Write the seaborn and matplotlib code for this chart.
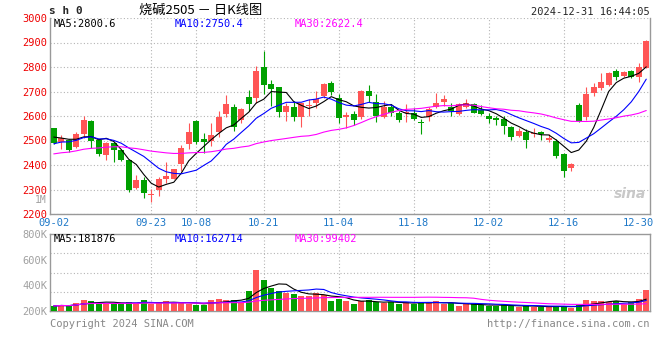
import matplotlib
matplotlib.use('Agg')
import matplotlib.pyplot as plt
import seaborn as sns
import numpy as np
import pandas as pd

# 日K数据 (2024-09-02 ~ 2024-12-31, 80 个交易日)
open_ = [2551, 2495, 2502, 2472, 2527, 2580, 2502, 2441, 2489, 2461,
         2420, 2305, 2339, 2278, 2296, 2344, 2344, 2404, 2486, 2581,
         2506, 2499, 2536, 2609, 2638, 2584, 2679, 2675, 2799, 2731,
         2717, 2618, 2636, 2597, 2641, 2652, 2683, 2736, 2675, 2597,
         2608, 2595, 2702, 2656, 2595, 2638, 2611, 2614, 2614, 2577,
         2595, 2636, 2658, 2636, 2608, 2638, 2649, 2624, 2601, 2593,
         2588, 2554, 2518, 2536, 2525, 2536, 2502, 2500, 2443, 2389,
         2645, 2597, 2695, 2713, 2727, 2784, 2764, 2784, 2760, 2797]
high = [2553, 2522, 2505, 2536, 2601, 2584, 2505, 2495, 2492, 2463,
        2422, 2359, 2351, 2302, 2349, 2411, 2385, 2482, 2570, 2583,
        2529, 2570, 2620, 2686, 2648, 2634, 2706, 2804, 2865, 2747,
        2720, 2652, 2662, 2655, 2668, 2702, 2734, 2743, 2690, 2618,
        2622, 2706, 2727, 2690, 2661, 2648, 2620, 2649, 2634, 2586,
        2636, 2693, 2686, 2652, 2654, 2669, 2654, 2645, 2611, 2600,
        2600, 2560, 2552, 2546, 2550, 2540, 2525, 2505, 2451, 2410,
        2652, 2719, 2733, 2774, 2781, 2790, 2785, 2788, 2815, 2910]
low = [2485, 2465, 2455, 2470, 2510, 2470, 2438, 2420, 2414, 2416,
       2291, 2302, 2265, 2250, 2275, 2327, 2342, 2377, 2467, 2486,
       2448, 2478, 2515, 2597, 2540, 2570, 2620, 2654, 2689, 2642,
       2597, 2581, 2581, 2556, 2600, 2631, 2672, 2686, 2573, 2550,
       2563, 2588, 2658, 2577, 2590, 2600, 2575, 2577, 2584, 2527,
       2581, 2631, 2641, 2600, 2604, 2631, 2612, 2604, 2570, 2563,
       2527, 2502, 2515, 2471, 2515, 2502, 2495, 2430, 2349, 2377,
       2575, 2584, 2682, 2705, 2724, 2747, 2758, 2754, 2740, 2795]
close = [2491, 2511, 2461, 2526, 2584, 2499, 2445, 2491, 2461, 2420,
         2300, 2339, 2287, 2282, 2342, 2355, 2382, 2471, 2535, 2495,
         2495, 2522, 2597, 2649, 2554, 2629, 2649, 2784, 2727, 2710,
         2618, 2641, 2597, 2652, 2645, 2668, 2731, 2699, 2590, 2603,
         2584, 2702, 2683, 2601, 2638, 2611, 2584, 2618, 2588, 2570,
         2627, 2654, 2669, 2620, 2648, 2652, 2614, 2608, 2588, 2584,
         2560, 2515, 2539, 2504, 2532, 2527, 2511, 2436, 2377, 2403,
         2578, 2690, 2719, 2740, 2774, 2759, 2779, 2758, 2800, 2907]
# 09-02 之前的收盘价 (估计, 仅用于均线)
prior_close = [2375, 2380, 2370, 2385, 2390, 2400, 2395, 2410, 2420, 2430,
               2425, 2440, 2445, 2450, 2460, 2455, 2465, 2470, 2460, 2469,
               2440, 2452, 2465, 2470, 2468, 2531, 2486, 2526, 2536]
# 成交量 (K)
volume_k = [239, 247, 239, 265, 286, 278, 260, 257, 260, 262,
            270, 252, 286, 257, 262, 278, 260, 270, 255, 247,
            247, 286, 294, 283, 286, 273, 356, 519, 442, 382,
            356, 343, 332, 317, 319, 343, 325, 278, 294, 278,
            255, 278, 283, 268, 260, 268, 257, 268, 257, 270,
            262, 275, 257, 262, 239, 252, 252, 247, 242, 239,
            247, 239, 234, 239, 234, 234, 229, 239, 239, 226,
            247, 286, 278, 278, 273, 278, 257, 268, 294, 364]

tick_pos = [0, 13, 19, 28, 38, 48, 58, 68, 78]
tick_labels = ['09-02', '09-23', '10-08', '10-21', '11-04', '11-18', '12-02', '12-16', '12-30']
price_ticks = list(range(2200, 3001, 100))
vol_ticks = [200e3, 400e3, 600e3, 800e3]
vol_tick_labels = ['200K', '400K', '600K', '800K']

RED = '#ff5555'
GREEN = '#00a000'
GRAY = '#999999'
GRID = '#b4b4b4'

sns.set_theme(style='white')
plt.rcParams['font.family'] = ['DejaVu Sans Mono', 'Noto Sans CJK SC']

o = np.array(open_, float)
h = np.array(high, float)
l = np.array(low, float)
c = np.array(close, float)
v = np.array(volume_k, float) * 1000
x = np.arange(len(c))
up = c >= o
colors = np.where(up, RED, GREEN)

full = pd.Series(prior_close + close, dtype=float)
ma = {n: full.rolling(n).mean().iloc[len(prior_close):].to_numpy() for n in (5, 10, 30)}
vs = pd.Series(v)
vma = {n: vs.rolling(n, min_periods=1).mean().to_numpy() for n in (5, 10, 30)}

fig = plt.figure(figsize=(6.6, 3.6), dpi=100)
ax = fig.add_axes([50 / 660, 1 - 214 / 360, 600 / 660, 196 / 360])
axv = fig.add_axes([50 / 660, 1 - 311 / 360, 600 / 660, 77 / 360])

# 价格面板
ax.vlines(x, l, h, colors=colors, lw=0.8, zorder=3)
ax.bar(x, np.maximum(np.abs(c - o), 3), bottom=np.minimum(o, c), width=0.78,
       color=colors, linewidth=0, zorder=4)
sns.lineplot(x=x, y=ma[5], color='black', lw=0.8, ax=ax, zorder=5)
sns.lineplot(x=x, y=ma[10], color='#0000ff', lw=0.8, ax=ax, zorder=5)
sns.lineplot(x=x, y=ma[30], color='#ff00ff', lw=0.8, ax=ax, zorder=5)

ax.set_xlim(-0.5, 79.5)
ax.set_ylim(2200, 3000)
ax.set_yticks(price_ticks)
ax.set_yticklabels([str(t) for t in price_ticks])
ax.set_xticks(tick_pos)
ax.set_xticklabels(tick_labels)
ax.tick_params(axis='y', colors='#ee0000', labelsize=7.5, length=0, pad=2)
ax.tick_params(axis='x', colors='#1e78c8', labelsize=7.5, length=0, pad=3.2)
ax.grid(axis='y', ls=(0, (1, 2)), color=GRID, lw=0.8)
ax.grid(axis='x', visible=False)
for p in tick_pos[1:-1]:
    ax.axvline(p, ls=(0, (1, 2)), color=GRID, lw=0.8, zorder=1)
ax.set_xlabel('')
ax.set_ylabel('')
for s in ['left', 'right', 'bottom']:
    ax.spines[s].set_color(GRAY)
    ax.spines[s].set_linewidth(1)
ax.spines['top'].set_visible(False)

# 成交量面板
vdf = pd.DataFrame({'i': x, 'vol': v, 'dir': np.where(up, 'up', 'down')})
sns.barplot(data=vdf, x='i', y='vol', hue='dir', palette={'up': RED, 'down': GREEN},
            native_scale=True, dodge=False, width=0.78, errorbar=None, legend=False,
            saturation=1, linewidth=0, ax=axv, zorder=3)
sns.lineplot(x=x, y=vma[5], color='black', lw=0.8, ax=axv, zorder=5)
sns.lineplot(x=x, y=vma[10], color='#0000ff', lw=0.8, ax=axv, zorder=5)
sns.lineplot(x=x, y=vma[30], color='#ff00ff', lw=0.8, ax=axv, zorder=5)
axv.set_xlim(-0.5, 79.5)
axv.set_ylim(200e3, 800e3)
axv.set_yticks(vol_ticks)
axv.set_yticklabels(vol_tick_labels)
axv.set_yticks([350e3, 500e3, 650e3], minor=True)
axv.set_xticks([])
axv.tick_params(axis='y', which='both', colors='#a0a0a0', labelsize=7.5, length=0, pad=2)
axv.grid(axis='y', which='minor', ls=(0, (1, 2)), color=GRID, lw=0.8)
axv.grid(axis='y', which='major', visible=False)
for p in tick_pos[1:-1]:
    axv.axvline(p, ls=(0, (1, 2)), color=GRID, lw=0.8, zorder=1)
axv.set_xlabel('')
axv.set_ylabel('')
for s in ['left', 'right', 'bottom', 'top']:
    axv.spines[s].set_color(GRAY)
    axv.spines[s].set_linewidth(1)

# 文字
fig.text(49 / 660, 1 - 11 / 360, 's h 0', fontsize=8, weight='bold', va='center')
fig.text(201 / 660, 1 - 10 / 360, '烧碱2505 － 日K线图', family=['Noto Sans CJK SC', 'DejaVu Sans'],
         fontsize=9.5, ha='center', va='center', color='black')
fig.text(650 / 660, 1 - 12 / 360, '2024-12-31 16:44:05', fontsize=7.5, ha='right', va='center')
fig.text(54 / 660, 1 - 24 / 360, 'MA5:2800.6', fontsize=7.5, va='center', color='black')
fig.text(175 / 660, 1 - 24 / 360, 'MA10:2750.4', fontsize=7.5, va='center', color='#0000ff')
fig.text(295 / 660, 1 - 24 / 360, 'MA30:2622.4', fontsize=7.5, va='center', color='#ff00ff')
fig.text(47 / 660, 1 - 200 / 360, '1M', fontsize=7, ha='right', va='center', color='#a0a0a0')
fig.text(54 / 660, 1 - 239 / 360, 'MA5:181876', fontsize=7.5, va='center', color='black')
fig.text(175 / 660, 1 - 239 / 360, 'MA10:162714', fontsize=7.5, va='center', color='#0000ff')
fig.text(295 / 660, 1 - 239 / 360, 'MA30:99402', fontsize=7.5, va='center', color='#ff00ff')
fig.text(50 / 660, 1 - 324 / 360, 'Copyright 2024 SINA.COM', fontsize=7.5, va='center', color='#888888')
fig.text(650 / 660, 1 - 324 / 360, 'http://finance.sina.com.cn', fontsize=7.5, ha='right',
         va='center', color='#888888')
fig.text(646 / 660, 1 - 194 / 360, 'sina', fontsize=10, ha='right', va='center', color='#c8c8c8',
         style='italic', weight='bold', family='DejaVu Sans')

fig.savefig('out.png', dpi=100)
